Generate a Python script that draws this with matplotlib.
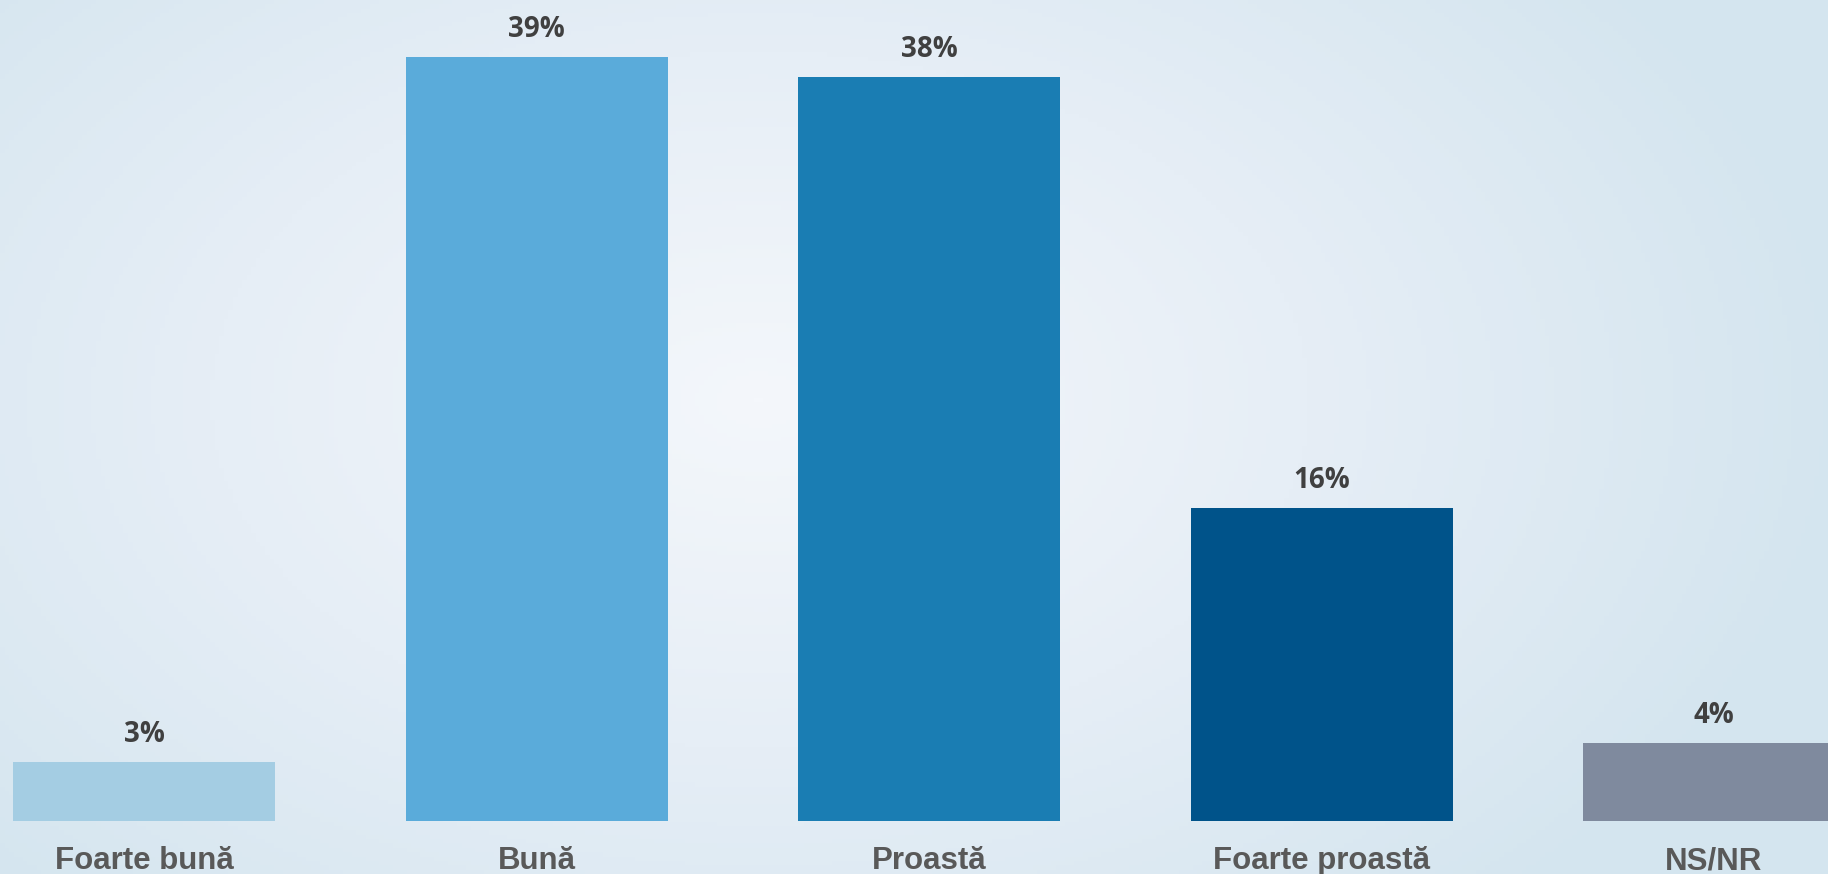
import numpy as np
import matplotlib
matplotlib.use("Agg")
import matplotlib.pyplot as plt
from matplotlib.colors import LinearSegmentedColormap
import matplotlib.transforms as mtransforms

categories = ["Foarte bună", "Bună", "Proastă", "Foarte proastă", "NS/NR"]
values = [3, 39, 38, 16, 4]
value_labels = ["3%", "39%", "38%", "16%", "4%"]
colors = ["#a4cde3", "#5aabda", "#1a7db3", "#00538a", "#7f8a9e"]

W, H = 1828, 874
fig = plt.figure(figsize=(W / 100, H / 100), dpi=100)

# background radial gradient
bg = fig.add_axes([0, 0, 1, 1], zorder=0)
xx, yy = np.meshgrid(np.linspace(0, W, 400), np.linspace(0, H, 200))
cx, cy = 760, 400
r = np.sqrt(((xx - cx) / 1100) ** 2 + ((yy - cy) / 700) ** 2)
r = np.clip(r / 1.0, 0, 1)
cmap = LinearSegmentedColormap.from_list("bg", ["#f4f7fb", "#e6eef6", "#d4e5ef"])
bg.imshow(r, cmap=cmap, extent=[0, W, H, 0], aspect="auto", vmin=0, vmax=1)
bg.set_axis_off()

ax = fig.add_axes([0, 0, 1, 1], zorder=1)
ax.patch.set_alpha(0)
step = 392.5
x0 = 144
xs = np.arange(len(categories))
ax.bar(xs, values, width=262 / step, color=colors)
ax.set_xlim(-x0 / step, (W - x0) / step)
ppv = 19.59
ax.set_ylim(-53 / ppv, (H - 53) / ppv)
ax.set_axis_off()

for x, v, lab in zip(xs, values, value_labels):
    ax.annotate(lab, (x, v), xytext=(0, 20 * 0.72), textcoords="offset points",
                ha="center", va="baseline", fontsize=20, fontweight="bold",
                family="Open Sans", color="#404040")

trans = mtransforms.blended_transform_factory(ax.transData, ax.transAxes)
for x, c in zip(xs, categories):
    ax.text(x, 5 / H, c, transform=trans, ha="center", va="baseline",
            fontsize=22.5, fontweight="bold", family="Liberation Sans", color="#595959")

fig.savefig("out.png", dpi=100)
